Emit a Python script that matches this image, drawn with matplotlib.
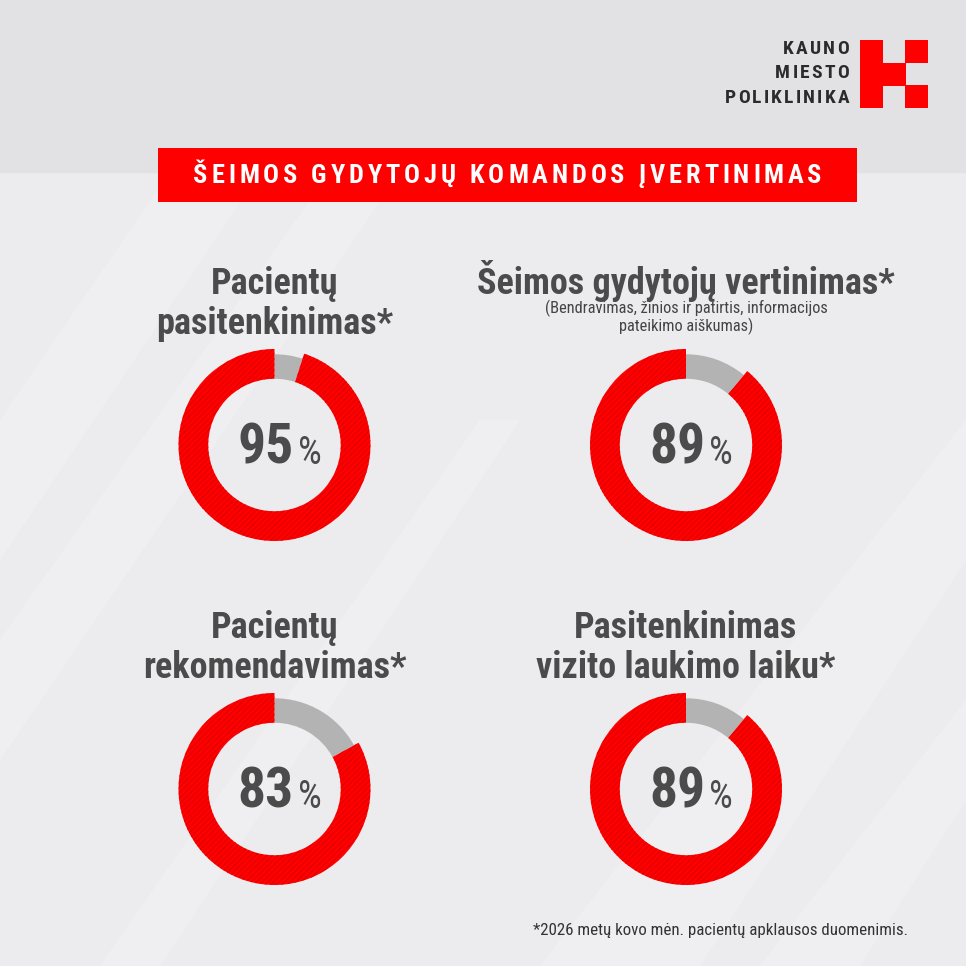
import matplotlib
matplotlib.use('Agg')
import matplotlib.pyplot as plt
from matplotlib.patches import Rectangle, Polygon
from matplotlib import font_manager

# data
titles = ['Pacientų\npasitenkinimas*', 'Šeimos gydytojų vertinimas*',
          'Pacientų\nrekomendavimas*', 'Pasitenkinimas\nvizito laukimo laiku*']
subtitles = ['', '(Bendravimas, žinios ir patirtis, informacijos\npateikimo aiškumas)', '', '']
values = [95, 89, 83, 89]
header = 'ŠEIMOS GYDYTOJŲ KOMANDOS ĮVERTINIMAS'
logo_lines = ['KAUNO', 'MIESTO', 'POLIKLINIKA']
footnote = '*2026 metų kovo mėn. pacientų apklausos duomenimis.'

names = {f.name for f in font_manager.fontManager.ttflist}
COND = 'Roboto'
for cand in ['Roboto Condensed', 'Liberation Sans Narrow', 'Open Sans Condensed', 'Noto Sans Condensed']:
    if cand in names:
        COND = cand
        break
narrow = COND != 'Roboto'
k = 1.0 if narrow else 0.9

RED = '#ff0000'
GRAY = '#b3b3b3'
DARK = '#4b4b4b'
plt.rcParams['hatch.linewidth'] = 0.6

fig = plt.figure(figsize=(9.66, 9.66), dpi=100)
ax = fig.add_axes([0, 0, 1, 1])
ax.set_xlim(0, 966)
ax.set_ylim(966, 0)
ax.axis('off')

# background
ax.add_patch(Rectangle((0, 0), 966, 966, color='#ececee', zorder=0))
ax.add_patch(Rectangle((0, 0), 966, 172, color='#e2e2e4', zorder=0.1))
for pts in [[(0, 420), (0, 560), (260, 172), (170, 172)],
            [(0, 640), (0, 760), (400, 172), (330, 172)],
            [(540, 966), (700, 966), (966, 560), (966, 420)],
            [(760, 966), (860, 966), (966, 800), (966, 700)],
            [(100, 966), (160, 966), (520, 420), (480, 420)]]:
    ax.add_patch(Polygon(pts, closed=True, color='white', alpha=0.2, lw=0, zorder=0.2))

renderer = fig.canvas.get_renderer()


def spaced(x, y, s, gap, ha='left', **kw):
    ts = []
    cx = 0
    for ch in s:
        t = ax.text(0, y, ch, va='center', ha='left', **kw)
        w = t.get_window_extent(renderer).width
        ts.append((t, cx))
        cx += w + gap
    total = cx - gap
    start = x - total if ha == 'right' else (x - total / 2 if ha == 'center' else x)
    for t, off in ts:
        t.set_x(start + off)


# logo
for i, line in enumerate(logo_lines):
    spaced(849, 49 + i * 24.5, line, 2.2 if narrow else 1.6, ha='right', fontsize=14 * k,
           fontweight='bold', family=COND, color='#2b2b2b')
cell = 22.6
for (c, r) in [(0, 0), (0, 1), (0, 2), (1, 1), (2, 0), (2, 2)]:
    ax.add_patch(Rectangle((860 + c * cell, 40 + r * cell), cell + 0.3, cell + 0.3,
                           color=RED, lw=0, zorder=2))

# header banner
ax.add_patch(Rectangle((158, 148), 699, 54, color=RED, lw=0, zorder=2))
spaced(507.5, 176, header, 2.6 if not narrow else 3.9, ha='center', fontsize=17.5 if not narrow else 19,
       fontweight='bold', family=COND, color='white', zorder=3)

centers = [(274.5, 445), (686, 445), (274.5, 789), (686, 789)]
R = 96
for i, (cx, cy) in enumerate(centers):
    # titles
    if subtitles[i]:
        ax.text(cx, 281, titles[i], ha='center', va='center', fontsize=26 * k, fontweight='bold',
                family=COND, color=DARK)
        ax.text(cx, 317, subtitles[i], ha='center', va='center', fontsize=11.8 * k,
                family=COND, color='#444444', linespacing=1.05)
    else:
        ty = cy - 141
        ax.text(cx, ty, titles[i], ha='center', va='center', fontsize=26 * k, fontweight='bold',
                family=COND, color=DARK, linespacing=1.12)

    dax = fig.add_axes([(cx - R) / 966, 1 - (cy + R) / 966, 2 * R / 966, 2 * R / 966])
    v = values[i]
    wedges, _ = dax.pie([100 - v, v], colors=[GRAY, RED], startangle=90, counterclock=False,
                        radius=1, wedgeprops=dict(width=0.31, linewidth=0))
    wedges[0].set_radius(0.945)
    wedges[0].set_width(0.255)
    wedges[1].set_hatch('//////')
    wedges[1].set_edgecolor('#d80000')
    dax.set_xlim(-1, 1)
    dax.set_ylim(-1, 1)
    dax.set_aspect('equal')
    dax.axis('off')

    # centre label
    ax.text(cx + 19, cy + 3, str(v), ha='right', va='center', fontsize=40 if narrow else 38,
            fontweight='bold', family=COND, color=DARK)
    ax.text(cx + 23, cy + 9, '%', ha='left', va='center', fontsize=27 if narrow else 24,
            family=COND, color=DARK)

ax.text(908, 931, footnote, ha='right', va='center', fontsize=12.2 * k, family=COND,
        color='#333333')

fig.savefig('out.png', dpi=100)
